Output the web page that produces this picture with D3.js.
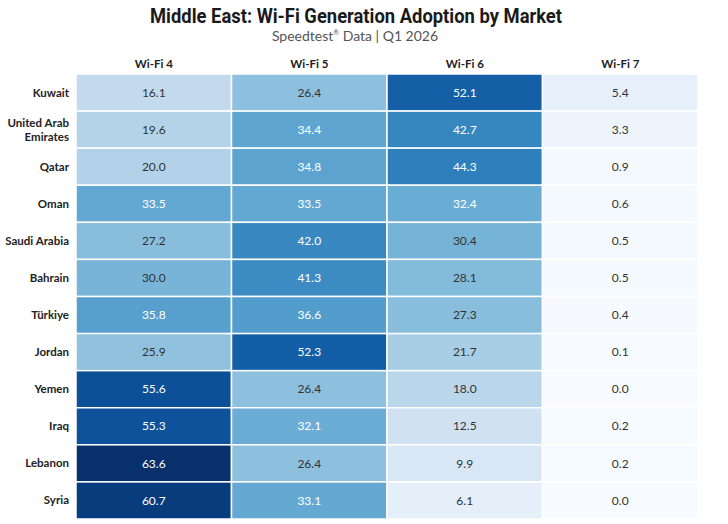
<!DOCTYPE html>
<html>
<head>
<meta charset="utf-8">
<script src="https://cdn.jsdelivr.net/npm/d3@7"></script>
<style>
  html, body { margin: 0; padding: 0; background: #fff; }
  svg { display: block; }
</style>
</head>
<body>
<svg id="chart" width="728" height="524"></svg>
<script>
const markets = ["Kuwait", "United Arab Emirates", "Qatar", "Oman", "Saudi Arabia", "Bahrain", "Türkiye", "Jordan", "Yemen", "Iraq", "Lebanon", "Syria"];
const generations = ["Wi-Fi 4", "Wi-Fi 5", "Wi-Fi 6", "Wi-Fi 7"];
const wifi4 = [16.1, 19.6, 20.0, 33.5, 27.2, 30.0, 35.8, 25.9, 55.6, 55.3, 63.6, 60.7];
const wifi5 = [26.4, 34.4, 34.8, 33.5, 42.0, 41.3, 36.6, 52.3, 26.4, 32.1, 26.4, 33.1];
const wifi6 = [52.1, 42.7, 44.3, 32.4, 30.4, 28.1, 27.3, 21.7, 18.0, 12.5, 9.9, 6.1];
const wifi7 = [5.4, 3.3, 0.9, 0.6, 0.5, 0.5, 0.4, 0.1, 0.0, 0.2, 0.2, 0.0];
const labelLines = { "United Arab Emirates": ["United Arab", "Emirates"] };

const series = [wifi4, wifi5, wifi6, wifi7];
const cells = [];
markets.forEach((m, i) => generations.forEach((g, j) => cells.push({ m, g, v: series[j][i] })));

const svg = d3.select("#chart");
const gridLeft = 76, gridRight = 698, gridTop = 74, gridBottom = 519;

const x = d3.scaleBand().domain(generations).range([gridLeft, gridRight]).padding(0);
const y = d3.scaleBand().domain(markets).range([gridTop, gridBottom]).padding(0);
const maxV = d3.max(cells, d => d.v);
const color = d3.scaleSequential(d3.interpolateBlues).domain([0, maxV]);

// Title
svg.append("text")
  .attr("x", 356).attr("y", 23)
  .attr("text-anchor", "middle")
  .attr("font-family", "Roboto, 'Open Sans', sans-serif")
  .attr("font-weight", 700)
  .attr("font-size", 20)
  .attr("textLength", 412)
  .attr("lengthAdjust", "spacingAndGlyphs")
  .attr("fill", "#1a1a1a")
  .text("Middle East: Wi-Fi Generation Adoption by Market");

const sub = svg.append("text")
  .attr("x", 355).attr("y", 41)
  .attr("text-anchor", "middle")
  .attr("font-family", "Lato, 'Open Sans', sans-serif")
  .attr("font-weight", 400)
  .attr("font-size", 14)
  .attr("fill", "#555");
sub.append("tspan").text("Speedtest");
sub.append("tspan").attr("font-size", 7).attr("dy", -6).text("®");
sub.append("tspan").attr("dy", 6).text(" Data | Q1 2026");

// Column headers
svg.append("g").selectAll("text").data(generations).join("text")
  .attr("x", d => x(d) + x.bandwidth() / 2)
  .attr("y", 68)
  .attr("text-anchor", "middle")
  .attr("font-family", "Lato, sans-serif")
  .attr("font-weight", "bold")
  .attr("font-size", 11.5)
  .attr("fill", "#222")
  .text(d => d);

// Cells
svg.append("g").selectAll("rect").data(cells).join("rect")
  .attr("x", d => x(d.g))
  .attr("y", d => y(d.m))
  .attr("width", x.bandwidth())
  .attr("height", y.bandwidth())
  .attr("fill", d => color(d.v))
  .attr("stroke", "#fff")
  .attr("stroke-width", 1.5);

// Cell values
svg.append("g").selectAll("text").data(cells).join("text")
  .attr("x", d => x(d.g) + x.bandwidth() / 2)
  .attr("y", d => y(d.m) + y.bandwidth() / 2)
  .attr("dy", "0.35em")
  .attr("text-anchor", "middle")
  .attr("font-family", "Lato, sans-serif")
  .attr("font-size", 12)
  .attr("fill", d => d.v > 31 ? "#fff" : "#333")
  .text(d => d.v.toFixed(1));

// Row labels
const rl = svg.append("g").selectAll("text").data(markets).join("text")
  .attr("x", 69)
  .attr("y", d => y(d) + y.bandwidth() / 2)
  .attr("text-anchor", "end")
  .attr("font-family", "Lato, sans-serif")
  .attr("font-weight", "bold")
  .attr("font-size", 11.5)
  .attr("fill", "#222");
rl.each(function(d) {
  const lines = labelLines[d] || [d];
  const t = d3.select(this);
  lines.forEach((ln, k) => {
    t.append("tspan")
      .attr("x", 69)
      .attr("dy", k === 0 ? (0.35 - (lines.length - 1) * 0.6) + "em" : "1.2em")
      .text(ln);
  });
});
</script>
</body>
</html>
